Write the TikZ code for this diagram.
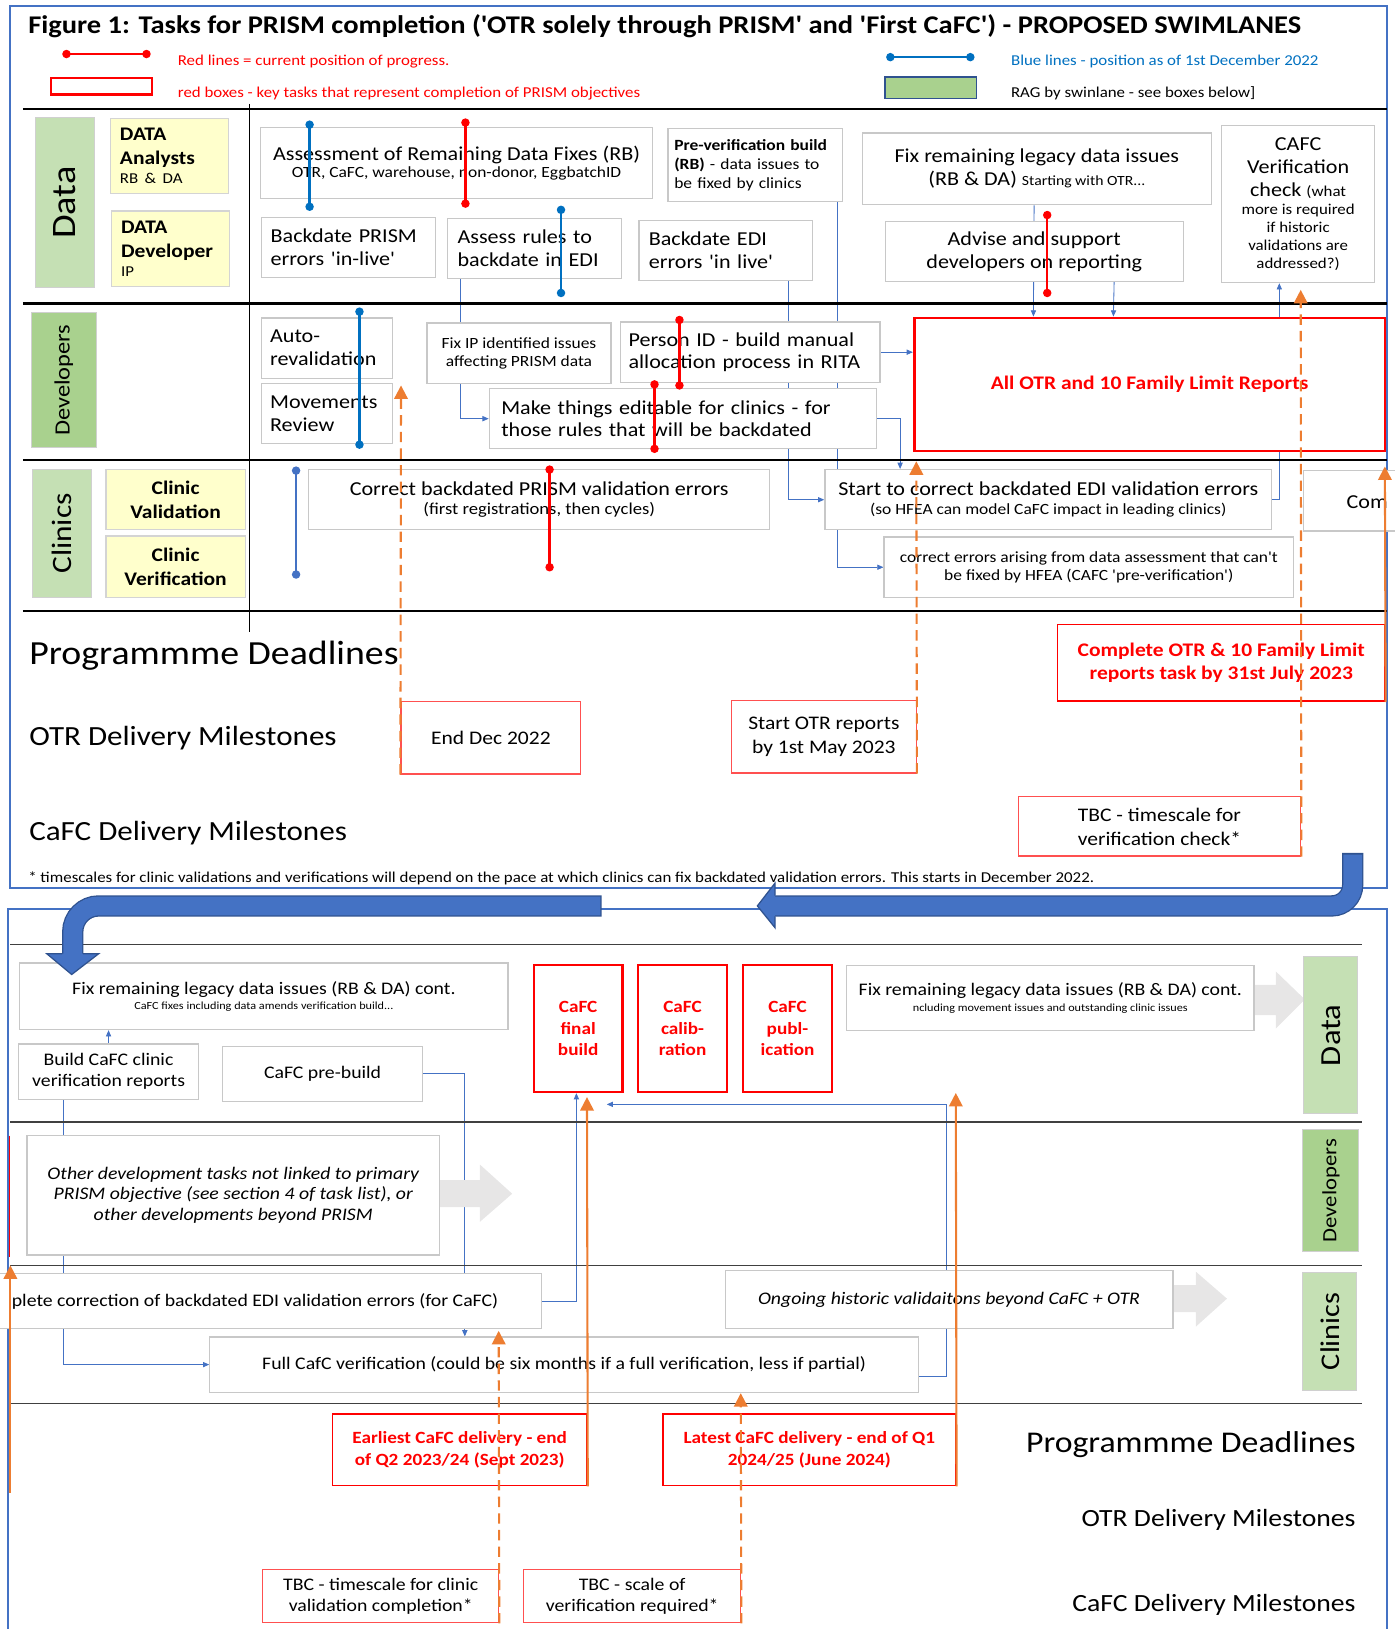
\documentclass[tikz,border=0pt]{standalone}
\usepackage{fontspec}
\setmainfont{Carlito}[FakeStretch=1.12, Ligatures=TeXOff]
\usetikzlibrary{arrows.meta,backgrounds}

\definecolor{boxgray}{HTML}{C8C8C8}
\definecolor{yellowfill}{HTML}{FFFFCC}
\definecolor{yellowedge}{HTML}{D4D4D4}
\definecolor{greenlight}{HTML}{C5E0B4}
\definecolor{greendark}{HTML}{A9D18E}
\definecolor{laneedge}{HTML}{D0D0D0}
\definecolor{progblue}{HTML}{0070C0}
\definecolor{connblue}{HTML}{4472C4}
\definecolor{orangeline}{HTML}{ED7D31}
\definecolor{milered}{HTML}{FF5050}
\definecolor{arrowgray}{HTML}{E7E6E6}
\definecolor{bandedge}{HTML}{2F528F}
\definecolor{lowgray}{HTML}{404040}

\newcommand{\fsz}[2]{\fontsize{#1}{#2}\selectfont}

\begin{document}
\begin{tikzpicture}[x=1pt, y=-1pt,
	boxat/.style args={#1,#2,#3,#4}{at={({((#1)+(#3))/2},{((#2)+(#4))/2})}, minimum width={(#3)-(#1)}, minimum height={(#4)-(#2)}},
	taskbox/.style={draw=boxgray, line width=1.2pt, fill=white, inner sep=0pt, align=center, font=\fsz{19}{22}},
	leftbox/.style={taskbox, align=left, text width=#1},
	smallbox/.style={taskbox, font=\fsz{15}{17.5}},
	lowbox/.style={taskbox, font=\fsz{17}{20}},
	yellowbox/.style={draw=yellowedge, line width=1.2pt, fill=yellowfill, inner sep=0pt, font=\bfseries\fsz{18.5}{23}},
	lanelight/.style={draw=laneedge, line width=1pt, fill=greenlight, inner sep=0pt},
	lanedark/.style={draw=laneedge, line width=1pt, fill=greendark, inner sep=0pt},
	lanetext/.style={rotate=90, inner sep=0pt},
	keybox/.style={draw=red, line width=2.6pt, fill=white, inner sep=0pt, align=center, text=red, font=\bfseries\fsz{18.5}{22}},
	milebox/.style={draw=milered, line width=1.2pt, fill=white, inner sep=0pt, align=center, font=\fsz{18.5}{23}},
	freetext/.style={anchor=base west, inner sep=0pt},
	conn/.style={draw=connblue, line width=0.8pt, -{Triangle[length=6pt,width=5pt]}},
	blueline/.style={draw=progblue, line width=2.2pt, {Circle[length=8pt]}-{Circle[length=8pt]}},
	redline/.style={draw=red, line width=2.2pt, {Circle[length=8pt]}-{Circle[length=8pt]}},
	orangedash/.style={draw=orangeline, line width=2pt, dash pattern=on 10pt off 6pt, -{Triangle[length=13pt,width=13pt]}},
	orangesolid/.style={draw=orangeline, line width=2pt, -{Triangle[length=13pt,width=13pt]}},
	swimline/.style={draw=black, line width=2.2pt},
	lowline/.style={draw=lowgray, line width=1.5pt},
	frame/.style={draw=connblue, line width=1.8pt}]

	\useasboundingbox (0,0) rectangle (1342,1568);

	% frames and swimlanes
	\draw[frame] (10,6) rectangle (1335,855);
	\draw[frame] (8,875) rectangle (1335,1600);
	\draw[swimline] (22,105) -- (1335,105);
	\draw[swimline] (22,292) -- (1335,292);
	\draw[swimline] (22,443) -- (1335,443);
	\draw[swimline] (22,588) -- (1335,588);
	\draw[black, line width=0.8pt] (240,100) -- (240,608);
	\draw[lowline] (10,909) -- (1311,909);
	\draw[lowline] (10,1080) -- (1311,1080);
	\draw[lowline] (10,1218) -- (1311,1218);
	\draw[lowline] (10,1351) -- (1311,1351);

	% title and legend
	\node[freetext, font=\bfseries\fsz{24.5}{28}] (title) at (27,32) {Figure 1: Tasks for PRISM completion ('OTR solely through PRISM' and 'First CaFC') - PROPOSED SWIMLANES};
	\draw[redline] (60,52) -- (145,52);
	\node[freetext, text=red, font=\fsz{14.5}{17}] (legredtext) at (171,63) {Red lines = current position of progress.};
	\node[draw=red, line width=2.2pt, inner sep=0pt, boxat={49,75,146,91}] (legredbox) {};
	\node[freetext, text=red, font=\fsz{14.5}{17}] (legboxtext) at (171,94) {red boxes - key tasks that represent completion of PRISM objectives};
	\draw[blueline] (853,55) -- (938,55);
	\node[freetext, text=progblue, font=\fsz{14.5}{17}] (legbluetext) at (973,63) {Blue lines - position as of 1st December 2022};
	\node[draw=bandedge, line width=1.5pt, fill=greendark, inner sep=0pt, boxat={852,74,940,95}] (legrag) {};
	\node[freetext, font=\fsz{14.5}{17}] (legragtext) at (973,94) {RAG by swinlane - see boxes below]};

	% data lane
	\node[lanelight, boxat={34,113,91,277}] (lanedata) {};
	\node[lanetext, font=\fsz{33}{36}] (lanedatatext) at (lanedata) {Data};
	\node[yellowbox, align=left, text width=95pt, boxat={106,114,220,186}] (analysts) {DATA\\Analysts\\[-5pt]{\mdseries\fsz{14.5}{17}RB \& DA}};
	\node[yellowbox, align=left, text width=95pt, boxat={107,203,221,276}] (developer) {DATA\\Developer\\[-5pt]{\mdseries\fsz{14.5}{17}IP}};
	\node[taskbox, boxat={251,123,628,191}] (assess) {Assessment of Remaining Data Fixes (RB)\\[-5pt]{\fsz{15}{17}OTR, CaFC, warehouse, non-donor, EggbatchID}};
	\node[leftbox=156pt, font=\fsz{15}{18}, boxat={643,124,811,194}] (preverif) {\textbf{Pre-verification build}\\\textbf{(RB)} - data issues to\\be fixed by clinics};
	\node[taskbox, boxat={830,128,1166,197}] (fixlegacy) {Fix remaining legacy data issues\\(RB \& DA) {\fsz{13.5}{16}Starting with OTR...}};
	\node[taskbox, boxat={1176,121,1323,272}] (cafcver) {CAFC\\Verification\\check {\fsz{14.5}{16}(what}\\[-4.5pt]{\fsz{14.5}{16}more is required}\\[-4.5pt]{\fsz{14.5}{16}if historic}\\[-4.5pt]{\fsz{14.5}{16}validations are}\\[-4.5pt]{\fsz{14.5}{16}addressed?)}};
	\node[leftbox=150pt, boxat={252,209,419,267}] (backprism) {Backdate PRISM\\errors 'in-live'};
	\node[leftbox=148pt, boxat={431,210,598,268}] (assessrules) {Assess rules to\\backdate in EDI};
	\node[leftbox=148pt, boxat={615,212,782,270}] (backedi) {Backdate EDI\\errors 'in live'};
	\node[taskbox, boxat={852,213,1139,271}] (advise) {Advise and support\\developers on reporting};

	% developers lane
	\node[lanedark, boxat={30,301,93,431}] (lanedev) {};
	\node[lanetext, font=\fsz{21}{24}] (lanedevtext) at (lanedev) {Developers};
	\node[leftbox=110pt, boxat={252,306,378,364}] (autoreval) {Auto-\\revalidation};
	\node[leftbox=110pt, boxat={252,369,378,427}] (movements) {Movements\\Review};
	\node[smallbox, boxat={411,311,588,369}] (fixip) {Fix IP identified issues\\affecting PRISM data};
	\node[leftbox=234pt, boxat={597,310,847,368}] (personid) {Person ID - build manual\\allocation process in RITA};
	\node[leftbox=350pt, boxat={471,374,844,432}] (editable) {Make things editable for clinics - for\\those rules that will be backdated};
	\node[keybox, boxat={880,306,1333,434}] (allotr) {All OTR and 10 Family Limit Reports};

	% clinics lane
	\node[lanelight, boxat={31,452,88,575}] (laneclin) {};
	\node[lanetext, font=\fsz{27}{30}] (laneclintext) at (laneclin) {Clinics};
	\node[yellowbox, align=center, boxat={102,452,236,510}] (clinicval) {Clinic\\Validation};
	\node[yellowbox, align=center, boxat={102,516,236,575}] (clinicver) {Clinic\\Verification};
	\node[taskbox, boxat={297,452,741,510}] (corrprism) {Correct backdated PRISM validation errors\\[-4pt]{\fsz{16}{17}(first registrations, then cycles)}};
	\node[taskbox, boxat={794,452,1224,510}] (startedi) {Start to correct backdated EDI validation errors\\[-4pt]{\fsz{15}{17}(so HFEA can model CaFC impact in leading clinics)}};
	\node[smallbox, boxat={851,517,1245,575}] (correrr) {correct errors arising from data assessment that can't\\be fixed by HFEA (CAFC 'pre-verification')};
	\node[taskbox, boxat={1255,453,1380,511}] (compltop) {};
	\node[freetext, font=\fsz{19}{22}] (compltoptext) at (1296,489) {Com};

	% deadlines and milestones, first half
	\node[freetext, font=\fsz{32.5}{36}] (progdead) at (28,640) {Programmme Deadlines};
	\node[freetext, font=\fsz{26.7}{30}] (otrmile) at (28,718) {OTR Delivery Milestones};
	\node[freetext, font=\fsz{26.7}{30}] (cafcmile) at (28,809) {CaFC Delivery Milestones};
	\node[milebox, boxat={386,675,559,745}] (enddec) {End Dec 2022};
	\node[milebox, boxat={704,674,882,744}] (startotr) {Start OTR reports\\by 1st May 2023};
	\node[keybox, line width=1.5pt, boxat={1018,601,1333,675}] (completeotr) {Complete OTR \& 10 Family Limit\\reports task by 31st July 2023};
	\node[milebox, boxat={980,767,1252,824}] (tbcver) {TBC - timescale for\\verification check*};
	\node[freetext, font=\fsz{14.5}{17}] (footnote) at (27,849) {* timescales for clinic validations and verifications will depend on the pace at which clinics can fix backdated validation errors. This starts in December 2022.};

	% second half lanes
	\node[lanelight, boxat={1255,921,1307,1072}] (lanedata2) {};
	\node[lanetext, font=\fsz{28}{30}] (lanedata2text) at (lanedata2) {Data};
	\node[lanedark, boxat={1254,1087,1308,1205}] (lanedev2) {};
	\node[lanetext, font=\fsz{19.5}{22}] (lanedev2text) at (lanedev2) {Developers};
	\node[lanelight, boxat={1254,1225,1306,1338}] (laneclin2) {};
	\node[lanetext, font=\fsz{26}{28}] (laneclin2text) at (laneclin2) {Clinics};

	\node[lowbox, boxat={19,927,489,991}] (fixcont) {Fix remaining legacy data issues (RB \& DA) cont.\\[-5pt]{\fsz{10.5}{12}CaFC fixes including data amends verification build...}};
	\node[lowbox, boxat={18,1005,191,1058}] (buildcafc) {Build CaFC clinic\\verification reports};
	\node[lowbox, boxat={214,1007,407,1060}] (prebuild) {CaFC pre-build};
	\node[keybox, font=\bfseries\fsz{16.5}{21}, line width=2.4pt, boxat={514,929,599,1051}] (finalbuild) {CaFC\\final\\build};
	\node[keybox, font=\bfseries\fsz{16.5}{21}, line width=2.4pt, boxat={614,929,700,1051}] (calib) {CaFC\\calib-\\ration};
	\node[keybox, font=\bfseries\fsz{16.5}{21}, line width=2.4pt, boxat={715,929,801,1051}] (publ) {CaFC\\publ-\\ication};
	\node[lowbox, boxat={815,929,1207,992}] (fixcont2) {Fix remaining legacy data issues (RB \& DA) cont.\\[-5pt]{\fsz{10.5}{12}ncluding movement issues and outstanding clinic issues}};
	\node[lowbox, font=\itshape\fsz{17}{20}, boxat={26,1093,423,1208}] (otherdev) {Other development tasks not linked to primary\\PRISM objective (see section 4 of task list), or\\other developments beyond PRISM};
	\node[lowbox, boxat={-30,1226,521,1279}] (complcaf) {plete correction of backdated EDI validation errors (for CaFC)};
	\node[lowbox, font=\itshape\fsz{17}{20}, boxat={698,1223,1129,1279}] (ongoing) {Ongoing historic validaitons beyond CaFC + OTR};
	\node[lowbox, boxat={202,1287,884,1340}] (fullver) {Full CafC verification (could be six months if a full verification, less if partial)};

	\node[keybox, line width=1.5pt, font=\bfseries\fsz{16.5}{21}, boxat={320,1361,565,1430}] (earliest) {Earliest CaFC delivery - end\\of Q2 2023/24 (Sept 2023)};
	\node[keybox, line width=1.5pt, font=\bfseries\fsz{16.5}{21}, boxat={638,1361,920,1430}] (latest) {Latest CaFC delivery - end of Q1\\2024/25 (June 2024)};
	\node[milebox, font=\fsz{17}{21}, boxat={253,1511,480,1562}] (tbcclinic) {TBC - timescale for clinic\\validation completion*};
	\node[milebox, font=\fsz{17}{21}, boxat={504,1511,713,1562}] (tbcscale) {TBC - scale of\\verification required*};
	\node[freetext, anchor=base east, font=\fsz{29}{32}] (progdead2) at (1305,1398) {Programmme Deadlines};
	\node[freetext, anchor=base east, font=\fsz{23.8}{26}] (otrmile2) at (1305,1469) {OTR Delivery Milestones};
	\node[freetext, anchor=base east, font=\fsz{23.8}{26}] (cafcmile2) at (1305,1551) {CaFC Delivery Milestones};

	% thin blue links, behind the boxes
	\begin{scope}[on background layer]
		\draw[conn] ([xshift=13pt]assessrules.south west) |- (editable.west);
		\draw[conn] ([xshift=-24pt]backedi.south east) |- (startedi.west);
		\draw[conn] ([xshift=-6pt]preverif.south east) |- (correrr.west);
		\draw[conn] (personid.east) -- (personid.east -| allotr.west);
		\draw[conn] (editable.east) -| ([xshift=73pt]startedi.north west);
		\draw[conn] ([xshift=166pt]fixlegacy.south west) -- ([xshift=116pt]allotr.north west);
		\draw[conn] ([xshift=221pt]advise.south west) -- ([xshift=193pt]allotr.north west);
		\draw[conn] (startedi.east) -| ([xshift=56pt]cafcver.south west);

		\draw[conn] (buildcafc.north) -- (buildcafc.north |- fixcont.south);
		\draw[conn] ([xshift=44pt]buildcafc.south west) |- (fullver.west);
		\draw[conn] (prebuild.east) -| ([xshift=246pt]fullver.north west);
		\draw[conn] (complcaf.east) -| ([xshift=42pt]finalbuild.south west);
		\coordinate (calibin) at (584,1063);
		\draw[conn] ([yshift=-11pt]fullver.east) -- ++(26,0) |- (calibin);

		\fill[arrowgray] (1200,948) -- (1228,948) -- (1228,935) -- (1256,962) -- (1228,990) -- (1228,977) -- (1200,977) -- cycle;
		\fill[arrowgray] (413,1136) -- (462,1136) -- (462,1121) -- (493,1149) -- (462,1176) -- (462,1162) -- (413,1162) -- cycle;
		\fill[arrowgray] (1123,1237) -- (1151,1237) -- (1151,1224) -- (1181,1250) -- (1151,1277) -- (1151,1263) -- (1123,1263) -- cycle;
	\end{scope}

	% progress positions
	\draw[blueline] (298,116) -- (298,203);
	\draw[blueline] (540,198) -- (540,286);
	\draw[blueline] (346,296) -- (346,432);
	\draw[blueline, draw=connblue] (285,449) -- (285,557);
	\draw[redline] (448,114) -- (448,200);
	\draw[redline] (1008,203) -- (1008,286);
	\draw[redline] (654,304) -- (654,375);
	\draw[redline] (630,366) -- (630,436);
	\draw[redline] (529,448) -- (529,550);

	% milestone arrows
	\coordinate (enddectip) at (386,371);
	\coordinate (startotrtip) at (882,444);
	\coordinate (tbcvertip) at (1252,279);
	\coordinate (completetip) at (1333,449);
	\draw[orangedash] (enddec.south west) -- (enddectip);
	\draw[orangedash] (startotr.south east) -- (startotrtip);
	\draw[orangedash] (tbcver.south east) -- (tbcvertip);
	\draw[orangesolid] (completeotr.south east) -- (completetip);
	\coordinate (earliesttip) at (565,1056);
	\coordinate (latesttip) at (920,1052);
	\coordinate (tbcclinictip) at (480,1281);
	\coordinate (tbcscaletip) at (713,1341);
	\draw[orangesolid] (earliest.south east) -- (earliesttip);
	\draw[orangesolid] (latest.south east) -- (latesttip);
	\draw[orangedash] (tbcclinic.south east) -- (tbcclinictip);
	\draw[orangedash] (tbcscale.south east) -- (tbcscaletip);
	\coordinate (leftfoot) at (10,1437);
	\coordinate (lefttip) at (10,1218);
	\draw[orangesolid] (leftfoot) -- (lefttip);
	\draw[red, line width=1.5pt] (9,1093) -- (9,1210);

	% big turn-over arrow
	\draw[bandedge, line width=20.5pt, rounded corners=20pt] (1302,821) |- (744,872);
	\draw[connblue, line width=18pt, rounded corners=20pt] (1302,822.5) |- (744,872);
	\fill[connblue] (746,850) -- (729,872) -- (746,893) -- cycle;
	\draw[bandedge, line width=1.2pt] (746,862) -- (746,850) -- (729,872) -- (746,893) -- (746,882);
	\draw[bandedge, line width=20.5pt, rounded corners=25pt] (579,872) -| (70,920);
	\draw[connblue, line width=18pt, rounded corners=25pt] (578,872) -| (70,921);
	\fill[connblue] (45,918) -- (69,938) -- (95,918) -- cycle;
	\draw[bandedge, line width=1.2pt] (60,918) -- (45,918) -- (69,938) -- (95,918) -- (80,918);
\end{tikzpicture}
\end{document}
